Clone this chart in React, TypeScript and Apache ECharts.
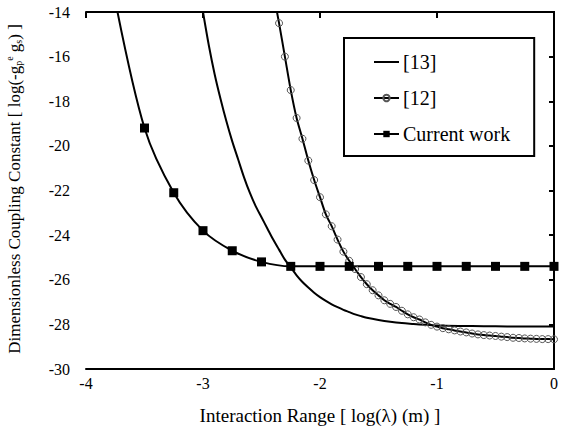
import React, { useEffect, useRef } from "react";
import * as echarts from "echarts";

// ---- Data ----
const ref13X = [-3.1, -3.05, -3.0, -2.95, -2.9, -2.85, -2.8, -2.75, -2.7, -2.65, -2.6, -2.55, -2.5, -2.45, -2.4, -2.35, -2.3, -2.25, -2.2, -2.15, -2.1, -2.05, -2.0, -1.95, -1.9, -1.85, -1.8, -1.75, -1.7, -1.65, -1.6, -1.5, -1.4, -1.3, -1.2, -1.1, -1.0, -0.8, -0.6, -0.4, -0.2, 0];
const ref13Y = [-10.6, -12.4, -14.0, -15.5, -16.8, -17.9, -18.9, -19.8, -20.6, -21.4, -22.1, -22.7, -23.2, -23.7, -24.2, -24.65, -25.1, -25.45, -25.8, -26.1, -26.35, -26.58, -26.78, -26.95, -27.1, -27.23, -27.35, -27.45, -27.55, -27.63, -27.7, -27.8, -27.88, -27.94, -27.98, -28.02, -28.05, -28.07, -28.08, -28.09, -28.1, -28.1];

const ref12X = [-2.4, -2.35, -2.3, -2.25, -2.2, -2.15, -2.1, -2.05, -2.0, -1.95, -1.9, -1.85, -1.8, -1.75, -1.7, -1.65, -1.6, -1.55, -1.5, -1.45, -1.4, -1.35, -1.3, -1.25, -1.2, -1.15, -1.1, -1.05, -1.0, -0.95, -0.9, -0.85, -0.8, -0.75, -0.7, -0.65, -0.6, -0.55, -0.5, -0.45, -0.4, -0.35, -0.3, -0.25, -0.2, -0.15, -0.1, -0.05, 0];
const ref12Y = [-13.1, -14.5, -16.0, -17.5, -18.75, -19.68, -20.66, -21.53, -22.3, -23.07, -23.6, -24.2, -24.74, -25.15, -25.52, -25.88, -26.2, -26.47, -26.7, -26.92, -27.08, -27.22, -27.39, -27.55, -27.68, -27.78, -27.91, -28.02, -28.1, -28.17, -28.22, -28.27, -28.32, -28.36, -28.41, -28.45, -28.48, -28.5, -28.52, -28.55, -28.57, -28.6, -28.61, -28.63, -28.64, -28.65, -28.66, -28.66, -28.67];

const currentX = [-3.75, -3.5, -3.25, -3.0, -2.75, -2.5, -2.25, -2.0, -1.75, -1.5, -1.25, -1.0, -0.75, -0.5, -0.25, 0];
const currentY = [-13.5, -19.2, -22.1, -23.8, -24.7, -25.2, -25.4, -25.4, -25.4, -25.4, -25.4, -25.4, -25.4, -25.4, -25.4, -25.4];

const seriesNames = ["[13]", "[12]", "Current work"];
const xTitle = "Interaction Range [ log(\u03bb) (m) ]";

const zip = (xs: number[], ys: number[]) => xs.map((x, i) => [x, ys[i]]);

const FONT = "Liberation Serif, serif";

export default function App() {
  const ref = useRef<HTMLDivElement>(null);
  useEffect(() => {
    if (!ref.current) return;
    const chart = echarts.init(ref.current, undefined, { renderer: "svg" });
    const axisLine = { show: true, lineStyle: { color: "#000", width: 2 } };
    chart.setOption({
      animation: false,
      backgroundColor: "#fff",
      textStyle: { fontFamily: FONT },
      grid: { left: 86, top: 12, right: 4, bottom: 67, containLabel: false },
      legend: {
        orient: "vertical",
        left: 344,
        top: 38,
        data: [
          { name: seriesNames[0], itemStyle: { opacity: 0 } },
          { name: seriesNames[1] },
          { name: seriesNames[2] },
        ],
        borderColor: "#000",
        borderWidth: 2,
        padding: [14, 24, 12, 29],
        itemGap: 16,
        itemWidth: 25,
        itemHeight: 8,
        textStyle: { fontFamily: FONT, fontSize: 20, color: "#000", padding: [0, 0, 0, -1] },
      },
      xAxis: [
        {
          type: "value",
          min: -4,
          max: 0,
          interval: 1,
          position: "bottom",
          axisLine,
          axisTick: { show: false },
          splitLine: { show: false },
          axisLabel: { color: "#000", fontFamily: FONT, fontSize: 16, margin: 6 },
          name: xTitle,
          nameLocation: "middle",
          nameGap: 37,
          nameTextStyle: { color: "#000", fontFamily: FONT, fontSize: 19 },
        },
        {
          type: "value",
          min: -4,
          max: 0,
          interval: 1,
          position: "top",
          axisLine,
          axisTick: { show: true, inside: true, length: 6, lineStyle: { color: "#000", width: 2 } },
          axisLabel: { show: false },
          splitLine: { show: false },
        },
      ],
      yAxis: [
        {
          type: "value",
          min: -30,
          max: -14,
          interval: 2,
          position: "left",
          axisLine,
          axisTick: { show: false },
          splitLine: { show: false },
          axisLabel: { color: "#000", fontFamily: FONT, fontSize: 16, margin: 16 },
        },
        {
          type: "value",
          min: -30,
          max: -14,
          interval: 2,
          position: "right",
          axisLine,
          axisTick: { show: true, inside: true, length: 5, lineStyle: { color: "#000", width: 2 } },
          axisLabel: { show: false },
          splitLine: { show: false },
        },
      ],
      series: [
        {
          name: seriesNames[0],
          type: "line",
          data: zip(ref13X, ref13Y),
          smooth: 0.3,
          showSymbol: false,
          symbol: "circle",
          clip: true,
          lineStyle: { color: "#000", width: 2 },
          itemStyle: { color: "#000" },
        },
        {
          name: seriesNames[1],
          type: "line",
          data: zip(ref12X, ref12Y),
          smooth: 0.3,
          symbol: "circle",
          symbolSize: 7,
          clip: true,
          lineStyle: { color: "#000", width: 2 },
          itemStyle: { color: "rgba(255,255,255,0)", borderColor: "#555", borderWidth: 1 },
        },
        {
          name: seriesNames[2],
          type: "line",
          data: zip(currentX, currentY),
          smooth: 0.3,
          symbol: "rect",
          symbolSize: 9,
          clip: true,
          lineStyle: { color: "#000", width: 2 },
          itemStyle: { color: "#000" },
        },
      ],
      graphic: [
        {
          type: "text",
          x: 14,
          y: 189,
          rotation: Math.PI / 2,
          style: {
            text: "{b|Dimensionless Coupling Constant [ log(-g}{sub|p}{sup|e}{b| g}{sub|s}{b|) ]}",
            fontFamily: FONT,
            fontSize: 17,
            fill: "#000",
            align: "center",
            verticalAlign: "middle",
            rich: {
              b: { fontFamily: FONT, fontSize: 17, fill: "#000", lineHeight: 20 },
              sub: { fontFamily: FONT, fontSize: 10, fill: "#000", lineHeight: 20, padding: [9, 0, 0, 0] },
              sup: { fontFamily: FONT, fontSize: 10, fill: "#000", lineHeight: 20, padding: [0, 0, 9, 0] },
            },
          },
        },
      ],
    });
    return () => chart.dispose();
  }, []);
  return <div ref={ref} style={{ width: 561, height: 436, position: "absolute", left: 0, top: 0 }} />;
}
